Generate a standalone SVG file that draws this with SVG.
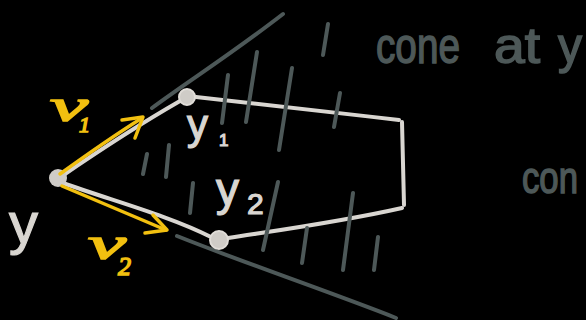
<svg xmlns="http://www.w3.org/2000/svg" width="586" height="320" viewBox="0 0 586 320">
<style>
.ln{fill:none;stroke:#d9d6d1;stroke-width:4;stroke-linecap:round;stroke-linejoin:round}
.dk{fill:none;stroke:#4d5858;stroke-width:4;stroke-linecap:round;stroke-linejoin:round}
.ye{fill:none;stroke:#f2c010;stroke-width:3.5;stroke-linecap:round;stroke-linejoin:round}
.tl{fill:#d9d6d1;stroke:#d9d6d1;stroke-width:1.2;font-family:"Liberation Sans",sans-serif}
.td{fill:#4d5858;stroke:#4d5858;stroke-width:1.5;font-family:"Liberation Sans",sans-serif}
.tv{fill:#f2c010;stroke:#f2c010;stroke-width:1.5;font-family:"Liberation Serif",serif;font-style:italic}
</style>
<rect width="586" height="320" fill="#000"/>
<g id="connectors">
<path class="ln" d="M62,176 C100,150 140,124 180,101"/>
<path class="ln" d="M196,97 C260,104 330,112 399,120"/>
<path class="ln" d="M402,122 L404,205"/>
<path class="ln" d="M402,208 C340,222 280,230 228,238"/>
<path class="ln" d="M63,183 C110,200 170,216 211,237"/>
</g>
<g id="cone">
<path class="dk" d="M152,108 C190,80 230,55 283,14"/>
<path class="dk" d="M177,236 C250,265 330,292 396,318"/>
<path class="dk" d="M228,75 L222,123 M257,52 L246,122 M292,68 L279,150 M340,93 L334,127 M328,24 L323,55 M147,154 L143,174 M169,145 L166,177 M193,183 L190,213 M278,182 L263,250 M307,228 L302,263 M353,193 L343,270 M378,237 L374,270"/>
</g>
<g id="node-y">
<circle cx="58" cy="178" r="9" fill="#cfccc7"/>
<text class="tl" x="9" y="243" font-size="58">y</text>
</g>
<g id="node-y1">
<circle cx="187" cy="97" r="8" fill="#cfccc7" stroke="#e0ddd8" stroke-width="2"/>
<text class="tl" x="187" y="139" font-size="42">y</text>
<text class="tl" x="219" y="146" font-size="17">1</text>
</g>
<g id="node-y2">
<circle cx="219" cy="240" r="9" fill="#cfccc7" stroke="#e0ddd8" stroke-width="2"/>
<text class="tl" x="216" y="205" font-size="46">y</text>
<text class="tl" x="247" y="214" font-size="30">2</text>
</g>
<g id="vectors">
<path class="ye" d="M60,174 C85,156 115,135 142,118"/>
<path class="ye" d="M122,120 L143,117 L135,138"/>
<path class="ye" d="M62,186 C95,200 130,215 166,230"/>
<path class="ye" d="M153,215 L167,230 L145,233"/>
<text class="tv" x="50" y="121" font-size="46" textLength="38" lengthAdjust="spacingAndGlyphs">v</text>
<text class="tv" x="79" y="132" font-size="22">1</text>
<text class="tv" x="88" y="259" font-size="46" textLength="38" lengthAdjust="spacingAndGlyphs">v</text>
<text class="tv" x="118" y="275" font-size="26">2</text>
</g>
<g id="labels">
<text class="td" x="376" y="63" font-size="50" textLength="84" lengthAdjust="spacingAndGlyphs">cone</text>
<text class="td" x="494" y="63" font-size="50" textLength="46" lengthAdjust="spacingAndGlyphs">at</text>
<text class="td" x="558" y="63" font-size="50" textLength="24" lengthAdjust="spacingAndGlyphs">y</text>
<text class="td" x="522" y="193" font-size="44" textLength="56" lengthAdjust="spacingAndGlyphs">con</text>
</g>
</svg>
